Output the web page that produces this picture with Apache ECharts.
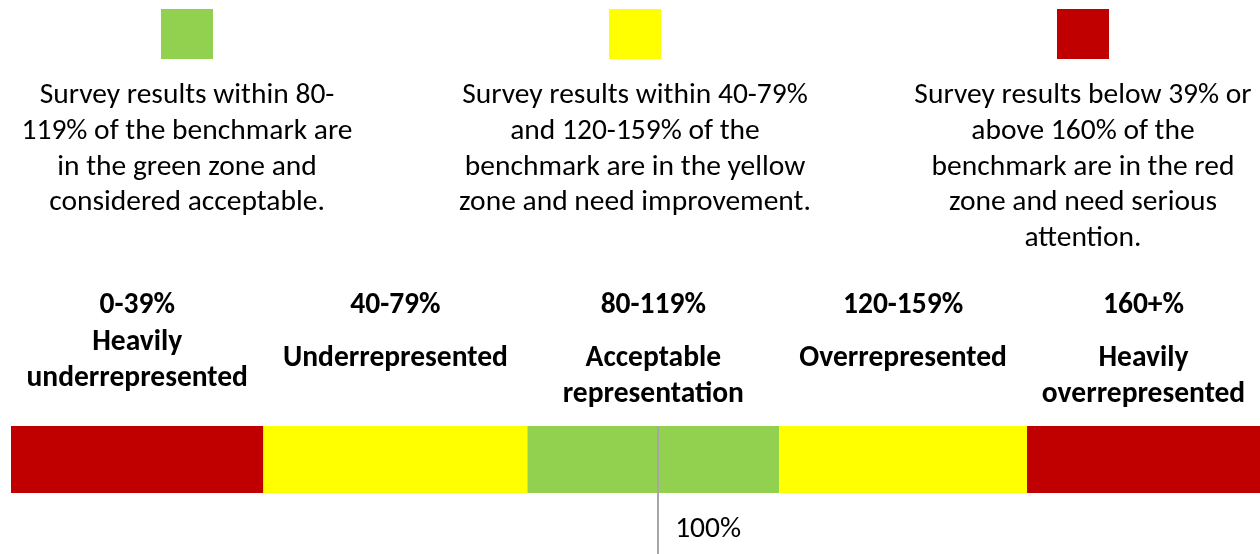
<!DOCTYPE html>
<html>
<head>
<meta charset="utf-8">
<script src="https://cdn.jsdelivr.net/npm/echarts@6/dist/echarts.min.js"></script>
<style>
  html, body { margin: 0; padding: 0; background: #ffffff; }
  #chart { width: 1260px; height: 554px; }
</style>
</head>
<body>
<div id="chart"></div>
<script>
// Representation zones, left to right along the scale
const zoneRanges = ['0-39%', '40-79%', '80-119%', '120-159%', '160+%'];
const zoneNames = [
  ['Heavily', 'underrepresented'],
  ['Underrepresented'],
  ['Acceptable', 'representation'],
  ['Overrepresented'],
  ['Heavily', 'overrepresented']
];
// Width of each zone on the percent-of-benchmark scale
const zoneWidths = [39, 40.8, 38.9, 38.3, 36];
const zoneColors = ['#C00000', '#FFFF00', '#92D050', '#FFFF00', '#C00000'];

// Benchmark marker
const benchmark = 100;
const benchmarkLabel = '100%';

// Key: colour swatches with their explanations
const keyColors = ['#92D050', '#FFFF00', '#C00000'];
const keyTexts = [
  ['Survey results within 80-', '119% of the benchmark are', 'in the green zone and', 'considered acceptable.'],
  ['Survey results within 40-79%', 'and 120-159% of the', 'benchmark are in the yellow', 'zone and need improvement.'],
  ['Survey results below 39% or', 'above 160% of the', 'benchmark are in the red', 'zone and need serious', 'attention.']
];

const FONT = "Carlito, 'Liberation Sans Narrow', 'DejaVu Sans Condensed', sans-serif";
const SIZE = 29.5;
const LINE = 35.6;
const scaleMax = zoneWidths.reduce((a, b) => a + b, 0);

const chart = echarts.init(document.getElementById('chart'), null, { renderer: 'canvas' });

const barSeries = zoneWidths.map((w, i) => ({
  type: 'bar',
  name: zoneRanges[i],
  stack: 'zones',
  xAxisIndex: 0,
  yAxisIndex: 0,
  barWidth: '100%',
  itemStyle: { color: zoneColors[i] },
  silent: true,
  data: [w]
}));

chart.setOption({
  animation: false,
  backgroundColor: '#ffffff',
  grid: [
    { left: 11, right: 0, top: 426, height: 67 },
    { left: 11, right: 0, top: 426, bottom: 0 }
  ],
  xAxis: [
    { type: 'value', gridIndex: 0, min: 0, max: scaleMax, show: false },
    { type: 'value', gridIndex: 1, min: 0, max: scaleMax, show: false }
  ],
  yAxis: [
    { type: 'category', gridIndex: 0, data: ['zones'], show: false },
    { type: 'value', gridIndex: 1, min: 0, max: 1, show: false }
  ],
  series: barSeries.concat([{
    type: 'line',
    xAxisIndex: 1,
    yAxisIndex: 1,
    data: [],
    z: 10,
    markLine: {
      silent: true,
      symbol: 'none',
      animation: false,
      label: { show: false },
      lineStyle: { color: '#A6A6A6', width: 2, type: 'solid' },
      data: [{ xAxis: benchmark }]
    }
  }])
});

// Text and swatches placed from the axis scale
const graphics = [];

// Zone headers, centred over each zone
let acc = 0;
zoneWidths.forEach((w, i) => {
  const cx = chart.convertToPixel({ xAxisIndex: 0 }, acc + w / 2);
  acc += w;
  graphics.push({
    type: 'text',
    silent: true,
    style: {
      text: zoneRanges[i], x: cx, y: 306,
      align: 'center', verticalAlign: 'middle',
      font: 'bold ' + SIZE + 'px ' + FONT, fill: '#000000'
    }
  });
  const nameTop = i === 0 ? 343 : 359;
  graphics.push({
    type: 'text',
    silent: true,
    style: {
      text: zoneNames[i].join('\n'), x: cx, y: nameTop - LINE / 2,
      align: 'center', verticalAlign: 'top', lineHeight: LINE,
      font: 'bold ' + SIZE + 'px ' + FONT, fill: '#000000'
    }
  });
});

// Benchmark value label beside the marker line
const bx = chart.convertToPixel({ xAxisIndex: 1 }, benchmark);
graphics.push({
  type: 'text',
  silent: true,
  style: {
    text: benchmarkLabel, x: bx + 17, y: 530,
    align: 'left', verticalAlign: 'middle',
    font: SIZE + 'px ' + FONT, fill: '#000000'
  }
});

// Key swatches and explanations
const keyCenters = [187, 635, 1083];
keyColors.forEach((c, i) => {
  graphics.push({
    type: 'rect',
    silent: true,
    shape: { x: keyCenters[i] - 26, y: 9, width: 52, height: 50 },
    style: { fill: c }
  });
  graphics.push({
    type: 'text',
    silent: true,
    style: {
      text: keyTexts[i].join('\n'), x: keyCenters[i], y: 96 - LINE / 2,
      align: 'center', verticalAlign: 'top', lineHeight: LINE,
      font: SIZE + 'px ' + FONT, fill: '#000000'
    }
  });
});

chart.setOption({ graphic: graphics });
</script>
</body>
</html>
